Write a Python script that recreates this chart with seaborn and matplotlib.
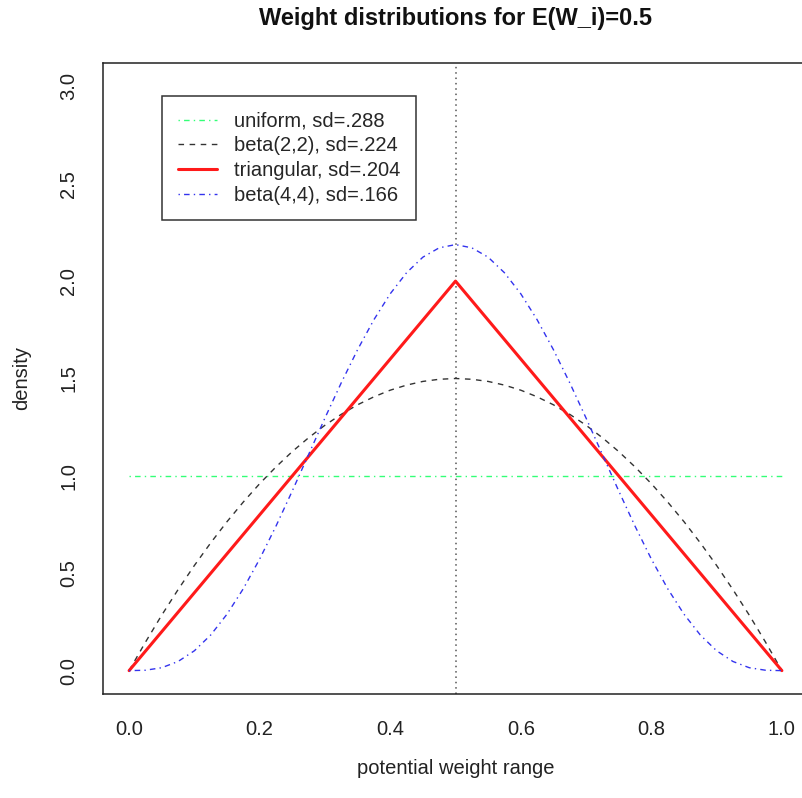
import matplotlib
matplotlib.use("Agg")
import matplotlib.pyplot as plt
import seaborn as sns

# x grid used for the two beta curves (step 0.025)
x_grid = [0.0, 0.025, 0.05, 0.075, 0.1, 0.125, 0.15, 0.175, 0.2, 0.225,
          0.25, 0.275, 0.3, 0.325, 0.35, 0.375, 0.4, 0.425, 0.45, 0.475,
          0.5, 0.525, 0.55, 0.575, 0.6, 0.625, 0.65, 0.675, 0.7, 0.725,
          0.75, 0.775, 0.8, 0.825, 0.85, 0.875, 0.9, 0.925, 0.95, 0.975, 1.0]

# density values
beta22_y = [0.0, 0.146, 0.285, 0.416, 0.54, 0.656, 0.765, 0.866, 0.96, 1.046,
            1.125, 1.196, 1.26, 1.316, 1.365, 1.406, 1.44, 1.466, 1.485, 1.496,
            1.5, 1.496, 1.485, 1.466, 1.44, 1.406, 1.365, 1.316, 1.26, 1.196,
            1.125, 1.046, 0.96, 0.866, 0.765, 0.656, 0.54, 0.416, 0.285, 0.146, 0.0]

beta44_y = [0.0, 0.002, 0.015, 0.047, 0.102, 0.183, 0.29, 0.421, 0.573, 0.742,
            0.923, 1.11, 1.297, 1.478, 1.648, 1.802, 1.935, 2.043, 2.123, 2.171,
            2.1875, 2.171, 2.123, 2.043, 1.935, 1.802, 1.648, 1.478, 1.297, 1.11,
            0.923, 0.742, 0.573, 0.421, 0.29, 0.183, 0.102, 0.047, 0.015, 0.002, 0.0]

uniform_x = [0.0, 1.0]
uniform_y = [1.0, 1.0]

tri_x = [0.0, 0.5, 1.0]
tri_y = [0.0, 2.0, 0.0]

labels = ["uniform, sd=.288", "beta(2,2), sd=.224",
          "triangular, sd=.204", "beta(4,4), sd=.166"]

x_ticks = [0.0, 0.2, 0.4, 0.6, 0.8, 1.0]
y_ticks = [0.0, 0.5, 1.0, 1.5, 2.0, 2.5, 3.0]

sns.set_style("white")
plt.rcParams['font.family'] = ['Liberation Sans', 'DejaVu Sans']

fig = plt.figure(figsize=(8.02, 7.98), dpi=100)
W, H = 802, 798
ax = fig.add_axes([103 / W, 104 / H, 705 / W, 631 / H])

ax.axvline(0.5, color="#555555", lw=1.1, ls=(0, (1, 2.5)))

sns.lineplot(x=uniform_x, y=uniform_y, ax=ax, color="#33ff77", lw=1.0,
             ls=(0, (1, 3, 4, 3)), label=labels[0], estimator=None)
sns.lineplot(x=x_grid, y=beta22_y, ax=ax, color="#333333", lw=1.0,
             ls=(0, (4, 4)), label=labels[1], estimator=None)
sns.lineplot(x=tri_x, y=tri_y, ax=ax, color="#ff1a1a", lw=2.2,
             ls="-", label=labels[2], estimator=None)
sns.lineplot(x=x_grid, y=beta44_y, ax=ax, color="#3333ee", lw=1.0,
             ls=(0, (1, 3, 4, 3)), label=labels[3], estimator=None)

ax.set_xlim(-0.04, 1.04)
ax.set_ylim(-0.12, 3.12)
ax.set_xticks(x_ticks)
ax.set_xticklabels([f"{t:.1f}" for t in x_ticks])
ax.set_yticks(y_ticks)
ax.set_yticklabels([f"{t:.1f}" for t in y_ticks], rotation=90, va="center")

for s in ax.spines.values():
    s.set_color("#222222")
    s.set_linewidth(1.1)

ax.tick_params(axis="both", direction="out", length=9, width=1.0,
               color="#222222", labelsize=14.5, labelcolor="#222222")
ax.tick_params(axis="x", pad=10)
ax.tick_params(axis="y", pad=9)

ax.set_title("Weight distributions for E(W_i)=0.5", fontsize=17,
             fontweight="bold", pad=27, color="#111111")
ax.set_xlabel("potential weight range", fontsize=14.5, labelpad=14,
              color="#222222")
ax.set_ylabel("density", fontsize=14.5, labelpad=20, color="#222222")

leg = ax.legend(loc="upper left", bbox_to_anchor=((162 - 103) / 705, (694 - 96) / 631),
                borderaxespad=0, fancybox=False, framealpha=1,
                edgecolor="#333333", fontsize=14.5, handlelength=1.94,
                handletextpad=0.85, labelspacing=0.28, borderpad=0.78)
leg.get_frame().set_linewidth(1.1)

fig.savefig("out.png", dpi=100)
